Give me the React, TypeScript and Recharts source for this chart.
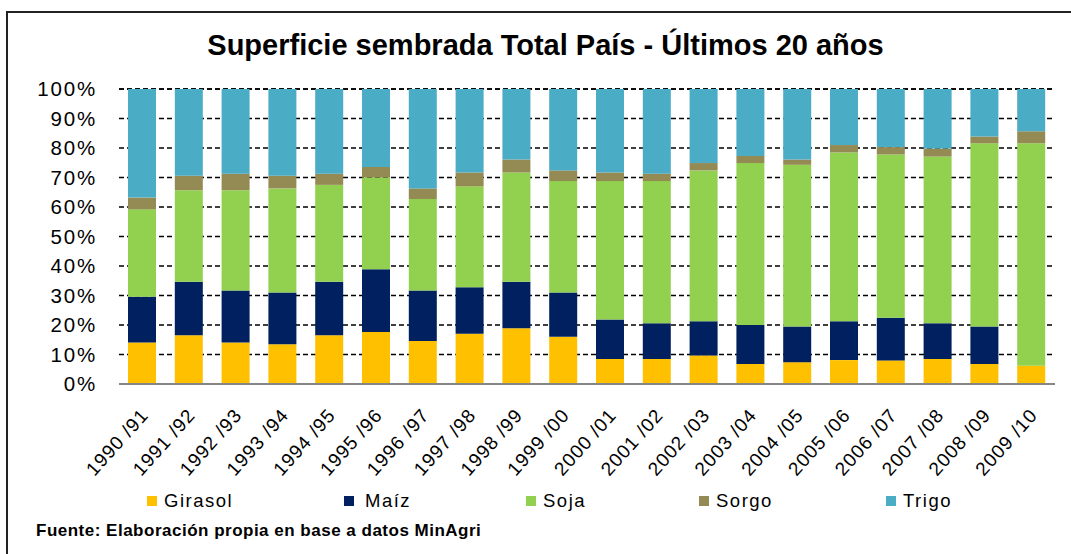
import React from 'react';
import { BarChart, Bar, XAxis, YAxis, CartesianGrid, Legend } from 'recharts';

const categories = ['1990 /91', '1991 /92', '1992 /93', '1993 /94', '1994 /95', '1995 /96', '1996 /97', '1997 /98', '1998 /99', '1999 /00', '2000 /01', '2001 /02', '2002 /03', '2003 /04', '2004 /05', '2005 /06', '2006 /07', '2007 /08', '2008 /09', '2009 /10'];
const girasol = [14.1, 16.5, 14.1, 13.5, 16.5, 17.6, 14.6, 17.0, 18.9, 16.0, 8.5, 8.5, 9.7, 6.8, 7.4, 8.1, 8.0, 8.5, 6.8, 6.2];
const maiz = [15.5, 18.2, 17.6, 17.5, 18.2, 21.3, 17.1, 15.8, 15.8, 15.0, 13.4, 12.1, 11.6, 13.2, 12.1, 13.2, 14.5, 12.1, 12.7, 0];
const soja = [29.6, 31.0, 34.0, 35.3, 32.8, 31.1, 31.0, 34.2, 37.0, 37.8, 46.9, 48.2, 51.1, 54.9, 54.8, 57.2, 55.3, 56.5, 62.1, 75.4];
const sorgo = [4.0, 4.9, 5.6, 4.3, 3.8, 3.6, 3.6, 4.7, 4.4, 3.6, 2.9, 2.5, 2.5, 2.4, 1.8, 2.5, 2.5, 2.7, 2.3, 4.1];
const trigo = [36.8, 29.4, 28.7, 29.4, 28.7, 26.4, 33.7, 28.3, 23.9, 27.6, 28.3, 28.7, 25.1, 22.7, 23.9, 19.0, 19.7, 20.2, 16.1, 14.3];
const yTicks = [0, 10, 20, 30, 40, 50, 60, 70, 80, 90, 100];

const seriesNames = ['Girasol', 'Maíz', 'Soja', 'Sorgo', 'Trigo'];
const seriesKeys = ['girasol', 'maiz', 'soja', 'sorgo', 'trigo'];
const seriesColors = ['#FFC000', '#002060', '#92D050', '#948A54', '#4BACC6'];

const data = categories.map((c, i) => ({
  name: c,
  girasol: girasol[i],
  maiz: maiz[i],
  soja: soja[i],
  sorgo: sorgo[i],
  trigo: trigo[i],
}));

const FONT = '"Liberation Sans", Arial, sans-serif';

const XTick = (props: any) => {
  const { x, y, payload } = props;
  const ax = x + 7;
  const ay = y + 24;
  return (
    <text
      x={ax}
      y={ay}
      transform={`rotate(-48, ${ax}, ${ay})`}
      textAnchor="end"
      fontSize={19}
      letterSpacing={1}
      fontFamily={FONT}
      fill="#000"
    >
      {payload.value}
    </text>
  );
};

const legendX = [147, 344, 526, 699, 886];

const LegendContent = (props: any) => {
  const { payload } = props;
  return (
    <div style={{ position: 'relative', width: 1071, height: 0 }}>
      {(payload || []).map((p: any, i: number) => (
        <div
          key={p.value}
          style={{
            position: 'absolute',
            left: legendX[i],
            top: 0,
            display: 'flex',
            alignItems: 'center',
            height: 22,
            whiteSpace: 'nowrap',
          }}
        >
          <span style={{ display: 'inline-block', width: 10, height: 10, background: p.color }} />
          <span
            style={{
              marginLeft: i === 1 ? 11 : 7,
              fontFamily: FONT,
              fontSize: 18.5,
              letterSpacing: 1.5,
              color: '#000',
            }}
          >
            {p.value}
          </span>
        </div>
      ))}
    </div>
  );
};

export default function App() {
  return (
    <div
      style={{
        position: 'absolute',
        left: 0,
        top: 0,
        width: 1071,
        height: 554,
        overflow: 'hidden',
        background: '#fff',
      }}
    >
      <div
        style={{
          position: 'absolute',
          left: 6,
          top: 11,
          width: 1200,
          height: 700,
          border: '2px solid #222',
          boxSizing: 'border-box',
        }}
      />
      <div
        style={{
          position: 'absolute',
          left: 0,
          top: 28,
          width: 1091,
          textAlign: 'center',
          fontFamily: FONT,
          fontWeight: 'bold',
          fontSize: 29,
          letterSpacing: 0,
          lineHeight: '34px',
          color: '#000',
          whiteSpace: 'nowrap',
        }}
      >
        Superficie sembrada Total País - Últimos 20 años
      </div>
      <div style={{ position: 'absolute', left: 0, top: 0 }}>
        <BarChart
          width={1071}
          height={554}
          data={data}
          margin={{ top: 89, right: 16, left: 2, bottom: 0 }}
          barSize={28}
        >
          <CartesianGrid vertical={false} stroke="#000" strokeDasharray="5 3" strokeWidth={1.3} />
          <XAxis
            dataKey="name"
            interval={0}
            tickLine={false}
            axisLine={{ stroke: '#868686', strokeWidth: 2 }}
            height={170}
            tick={<XTick />}
          />
          <YAxis
            width={117}
            domain={[0, 100]}
            ticks={yTicks}
            tickFormatter={(v: number) => `${v}%`}
            axisLine={false}
            tickLine={false}
            tickSize={0}
            tickMargin={22}
            tick={{ fontSize: 20.5, fill: '#000', fontFamily: FONT, letterSpacing: 1.8 }}
          />
          <Legend
            verticalAlign="bottom"
            content={<LegendContent />}
            wrapperStyle={{ position: 'absolute', left: 0, top: 490, width: 1071, height: 0 }}
          />
          {seriesKeys.map((k, i) => (
            <Bar
              key={k}
              dataKey={k}
              name={seriesNames[i]}
              stackId="a"
              fill={seriesColors[i]}
              isAnimationActive={false}
            />
          ))}
        </BarChart>
      </div>
      <div
        style={{
          position: 'absolute',
          left: 36,
          top: 521,
          fontFamily: FONT,
          fontWeight: 'bold',
          fontSize: 17,
          letterSpacing: 0.5,
          color: '#000',
          whiteSpace: 'nowrap',
        }}
      >
        Fuente: Elaboración propia en base a datos MinAgri
      </div>
    </div>
  );
}
